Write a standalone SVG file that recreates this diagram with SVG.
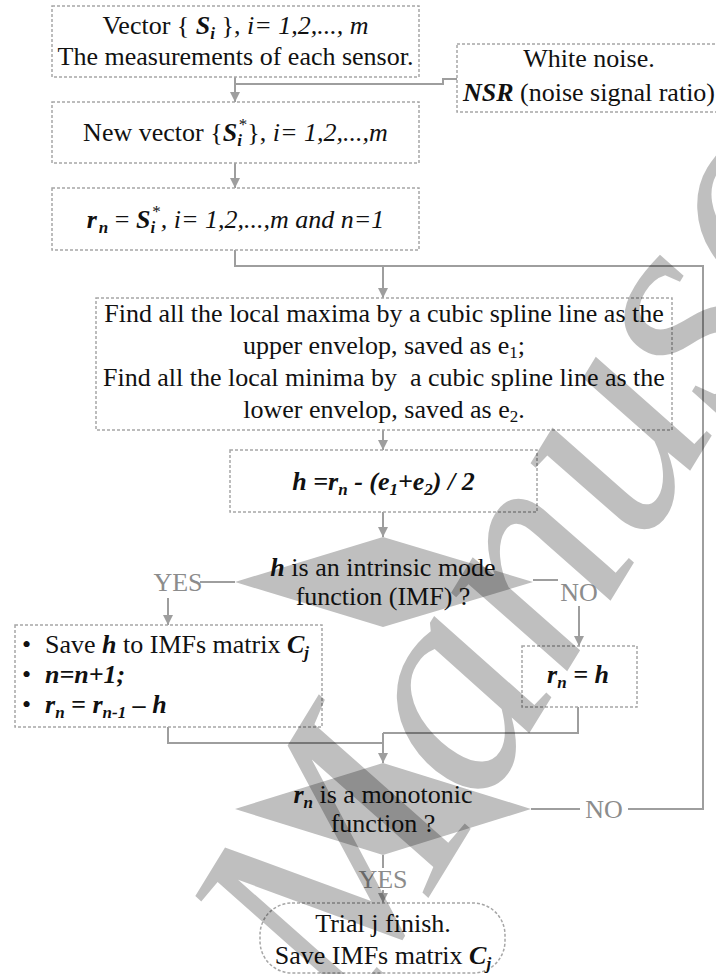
<svg xmlns="http://www.w3.org/2000/svg" width="716" height="974" viewBox="0 0 716 974">
<style>
.box{fill:#fff;stroke:#a6a6a6;stroke-width:1.5;stroke-dasharray:3 2}
.t{font-family:"Liberation Serif","Times New Roman",serif;font-size:26px;fill:#111}
.bi{font-weight:bold;font-style:italic}
.i{font-style:italic}
.sub{font-size:17px}
.lbl{fill:#8c8c8c}
.con{fill:none;stroke:#9e9e9e;stroke-width:2}
.dia{fill:#bfbfbf}
</style>
<defs>
<marker id="ah" viewBox="0 0 10 10" refX="10" refY="5" markerWidth="5" markerHeight="5" orient="auto" markerUnits="strokeWidth">
<path d="M0,0 L10,5 L0,10 z" fill="#9e9e9e"/>
</marker>
</defs>
<rect width="716" height="974" fill="#fff"/>

<g id="connectors">
<path class="con" d="M235,77 V102" marker-end="url(#ah)"/>
<path class="con" d="M457,79 H443 V84 H235"/>
<path class="con" d="M235,163 V188" marker-end="url(#ah)"/>
<path class="con" d="M235,250 V266 H703 V809 H628"/>
<path class="con" d="M383,266 V298" marker-end="url(#ah)"/>
<path class="con" d="M383,430 V450" marker-end="url(#ah)"/>
<path class="con" d="M383,512 V537" marker-end="url(#ah)"/>
<path class="con" d="M200,582 H235"/>
<path class="con" d="M168,598 V625" marker-end="url(#ah)"/>
<path class="con" d="M533,580 H558"/>
<path class="con" d="M579,606 V646" marker-end="url(#ah)"/>
<path class="con" d="M578,707 V733 H383"/>
<path class="con" d="M168,727 V743 H383"/>
<path class="con" d="M383,733 V763" marker-end="url(#ah)"/>
<path class="con" d="M531,809 H580"/>
<path class="con" d="M383,855 V868"/>
<path class="con" d="M383,890 V903" marker-end="url(#ah)"/>
</g>

<g id="n1">
<rect class="box" x="52" y="6" width="367" height="71"/>
<text class="t" x="235.5" y="34" text-anchor="middle">Vector { <tspan class="bi">S</tspan><tspan class="bi sub" dy="5">i</tspan><tspan dy="-5"> }, </tspan><tspan class="i">i= 1,2,..., m</tspan></text>
<text class="t" x="235.5" y="65" text-anchor="middle">The measurements of each sensor.</text>
</g>

<g id="noise">
<rect class="box" x="457" y="44" width="264" height="68"/>
<text class="t" x="589" y="67" text-anchor="middle">White noise.</text>
<text class="t" x="589" y="101" text-anchor="middle"><tspan class="bi">NSR</tspan> (noise signal ratio)</text>
</g>

<g id="n2">
<rect class="box" x="52" y="102" width="367" height="61"/>
<text class="t" x="235.5" y="141" text-anchor="middle">New vector {<tspan class="bi">S</tspan><tspan class="bi sub" dy="5">i</tspan><tspan class="sub" dx="-3" dy="-16">*</tspan><tspan dy="11">}, </tspan><tspan class="i">i= 1,2,...,m</tspan></text>
</g>

<g id="n3">
<rect class="box" x="52" y="188" width="367" height="62"/>
<text class="t" x="235.5" y="228" text-anchor="middle"><tspan class="bi">r</tspan><tspan class="bi sub" dx="2" dy="5">n</tspan><tspan dy="-5"> = </tspan><tspan class="bi">S</tspan><tspan class="bi sub" dy="5">i</tspan><tspan class="sub" dx="-3" dy="-16">*</tspan><tspan class="i" dy="11">, i= 1,2,...,m and n=1</tspan></text>
</g>

<g id="n4">
<rect class="box" x="96" y="298" width="576" height="132"/>
<text class="t" x="384" y="322" text-anchor="middle">Find all the local maxima by a cubic spline line as the</text>
<text class="t" x="384" y="354" text-anchor="middle">upper envelop, saved as e<tspan class="sub" dy="4">1</tspan><tspan dy="-4">;</tspan></text>
<text class="t" x="384" y="386" text-anchor="middle" xml:space="preserve">Find all the local minima by  a cubic spline line as the</text>
<text class="t" x="384" y="418" text-anchor="middle">lower envelop, saved as e<tspan class="sub" dy="4">2</tspan><tspan dy="-4">.</tspan></text>
</g>

<g id="n5">
<rect class="box" x="230" y="450" width="307" height="62"/>
<text class="t bi" x="383.5" y="490" text-anchor="middle">h =r<tspan class="sub" dy="5">n</tspan><tspan dy="-5"> - (e</tspan><tspan class="sub" dy="5">1</tspan><tspan dy="-5">+e</tspan><tspan class="sub" dy="5">2</tspan><tspan dy="-5">) / 2</tspan></text>
</g>

<g id="d1">
<polygon class="dia" points="383,537 533,582 383,627 235,582"/>
<text class="t" x="383" y="576" text-anchor="middle"><tspan class="bi">h</tspan> is an intrinsic mode</text>
<text class="t" x="383" y="605" text-anchor="middle">function (IMF) ?</text>
<text class="t lbl" x="178" y="591" text-anchor="middle">YES</text>
<text class="t lbl" x="579" y="601" text-anchor="middle">NO</text>
</g>

<g id="n6">
<rect class="box" x="15" y="625" width="307" height="102"/>
<text class="t" x="22" y="653">•</text>
<text class="t" x="22" y="683">•</text>
<text class="t" x="22" y="713">•</text>
<text class="t" x="45" y="653">Save <tspan class="bi">h</tspan> to IMFs matrix <tspan class="bi">C</tspan><tspan class="bi sub" dy="5">j</tspan></text>
<text class="t bi" x="45" y="683">n=n+1;</text>
<text class="t bi" x="45" y="713">r<tspan class="sub" dy="5">n</tspan><tspan dy="-5"> = r</tspan><tspan class="sub" dy="5">n-1</tspan><tspan dy="-5"> – h</tspan></text>
</g>

<g id="n7">
<rect class="box" x="522" y="646" width="115" height="61"/>
<text class="t bi" x="578" y="683" text-anchor="middle">r<tspan class="sub" dy="5">n</tspan><tspan dy="-5"> = h</tspan></text>
</g>

<g id="d2">
<polygon class="dia" points="383,763 531,809 383,855 235,809"/>
<text class="t" x="383" y="803" text-anchor="middle"><tspan class="bi">r</tspan><tspan class="bi sub" dy="5">n</tspan><tspan dy="-5"> is a monotonic</tspan></text>
<text class="t" x="383" y="832" text-anchor="middle">function ?</text>
<text class="t lbl" x="604" y="818" text-anchor="middle">NO</text>
<text class="t lbl" x="383" y="888" text-anchor="middle">YES</text>
</g>

<g id="n8">
<rect class="box" x="260" y="903" width="245" height="70" rx="32"/>
<text class="t" x="383" y="932" text-anchor="middle">Trial j finish.</text>
<text class="t" x="383" y="964" text-anchor="middle">Save IMFs matrix <tspan class="bi">C</tspan><tspan class="bi sub" dy="5">j</tspan></text>
</g>

<g id="watermark">
<text transform="rotate(-3.5,300,880) translate(340,1030) rotate(-55)" font-family="Liberation Serif, serif" font-style="italic" font-size="305" fill="#000" fill-opacity="0.25">Manuscript</text>
</g>
</svg>
